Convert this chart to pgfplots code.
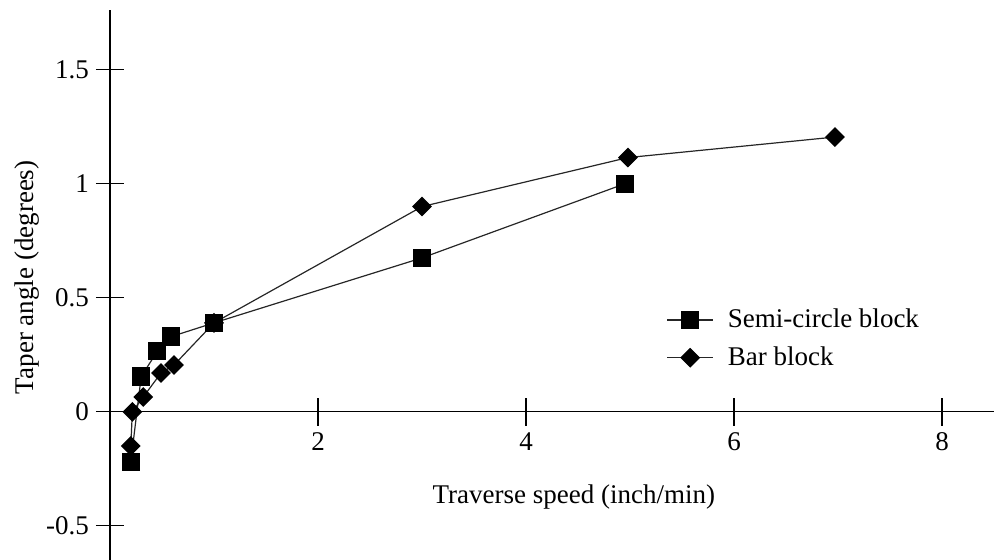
\documentclass[border=0pt]{standalone}
\usepackage{pgfplots}
\pgfplotsset{compat=1.18}
\usepackage{fontspec}
\setmainfont{Liberation Serif}
\begin{document}
\begin{tikzpicture}
\useasboundingbox (-55pt,0pt) rectangle (442pt,280pt);
\begin{axis}[
  x=52pt, y=114pt,
  xmin=0, xmax=8.5, ymin=-0.65, ymax=1.763,
  axis x line*=middle, axis y line*=left,
  xtick={2,4,6,8}, xticklabels={2,4,6,8},
  ytick={-0.5,0,0.5,1,1.5}, yticklabels={-0.5,0,0.5,1,1.5},
  /pgf/number format/assume math mode=true,
  tick align=center, major tick length=14pt,
  tick style={black, line width=0.6pt},
  axis line style={black, line width=0.7pt},
  font=\fontsize{13.5}{16}\selectfont,
  xlabel={Traverse speed (inch/min)},
  ylabel={Taper angle (degrees)},
  xlabel style={at={(axis cs:4.46,-0.373)}, anchor=center},
  ylabel style={at={(axis cs:-0.8,0.59)}, anchor=center},
  clip=false,
  legend style={draw=none, fill=none, at={(axis cs:5.29,0.32)}, anchor=west, row sep=4pt, cells={anchor=west}, font=\fontsize{13.5}{16}\selectfont, /tikz/every odd column/.append style={column sep=5pt}},
  legend image code/.code={\draw[mark repeat=2,mark phase=2,#1] plot coordinates {(0pt,0pt)(11.5pt,0pt)(23pt,0pt)};},
]
\addplot[black!85, line width=0.6pt, mark=square*, mark size=4.25pt, mark options={solid, fill=black, draw=black}]
coordinates {(0.2,-0.22) (0.3,0.155) (0.455,0.265) (0.59,0.33) (1,0.39) (3,0.675) (4.95,1.0)};
\addlegendentry{Semi-circle block}
\addplot[black!85, line width=0.6pt, mark=square*, mark size=3.2pt, mark options={solid, fill=black, draw=black, rotate=45}]
coordinates {(0.2,-0.15) (0.215,0) (0.32,0.065) (0.49,0.17) (0.615,0.205) (1,0.39) (3,0.9) (4.98,1.115) (6.97,1.205)};
\addlegendentry{Bar block}
\end{axis}
\end{tikzpicture}
\end{document}
